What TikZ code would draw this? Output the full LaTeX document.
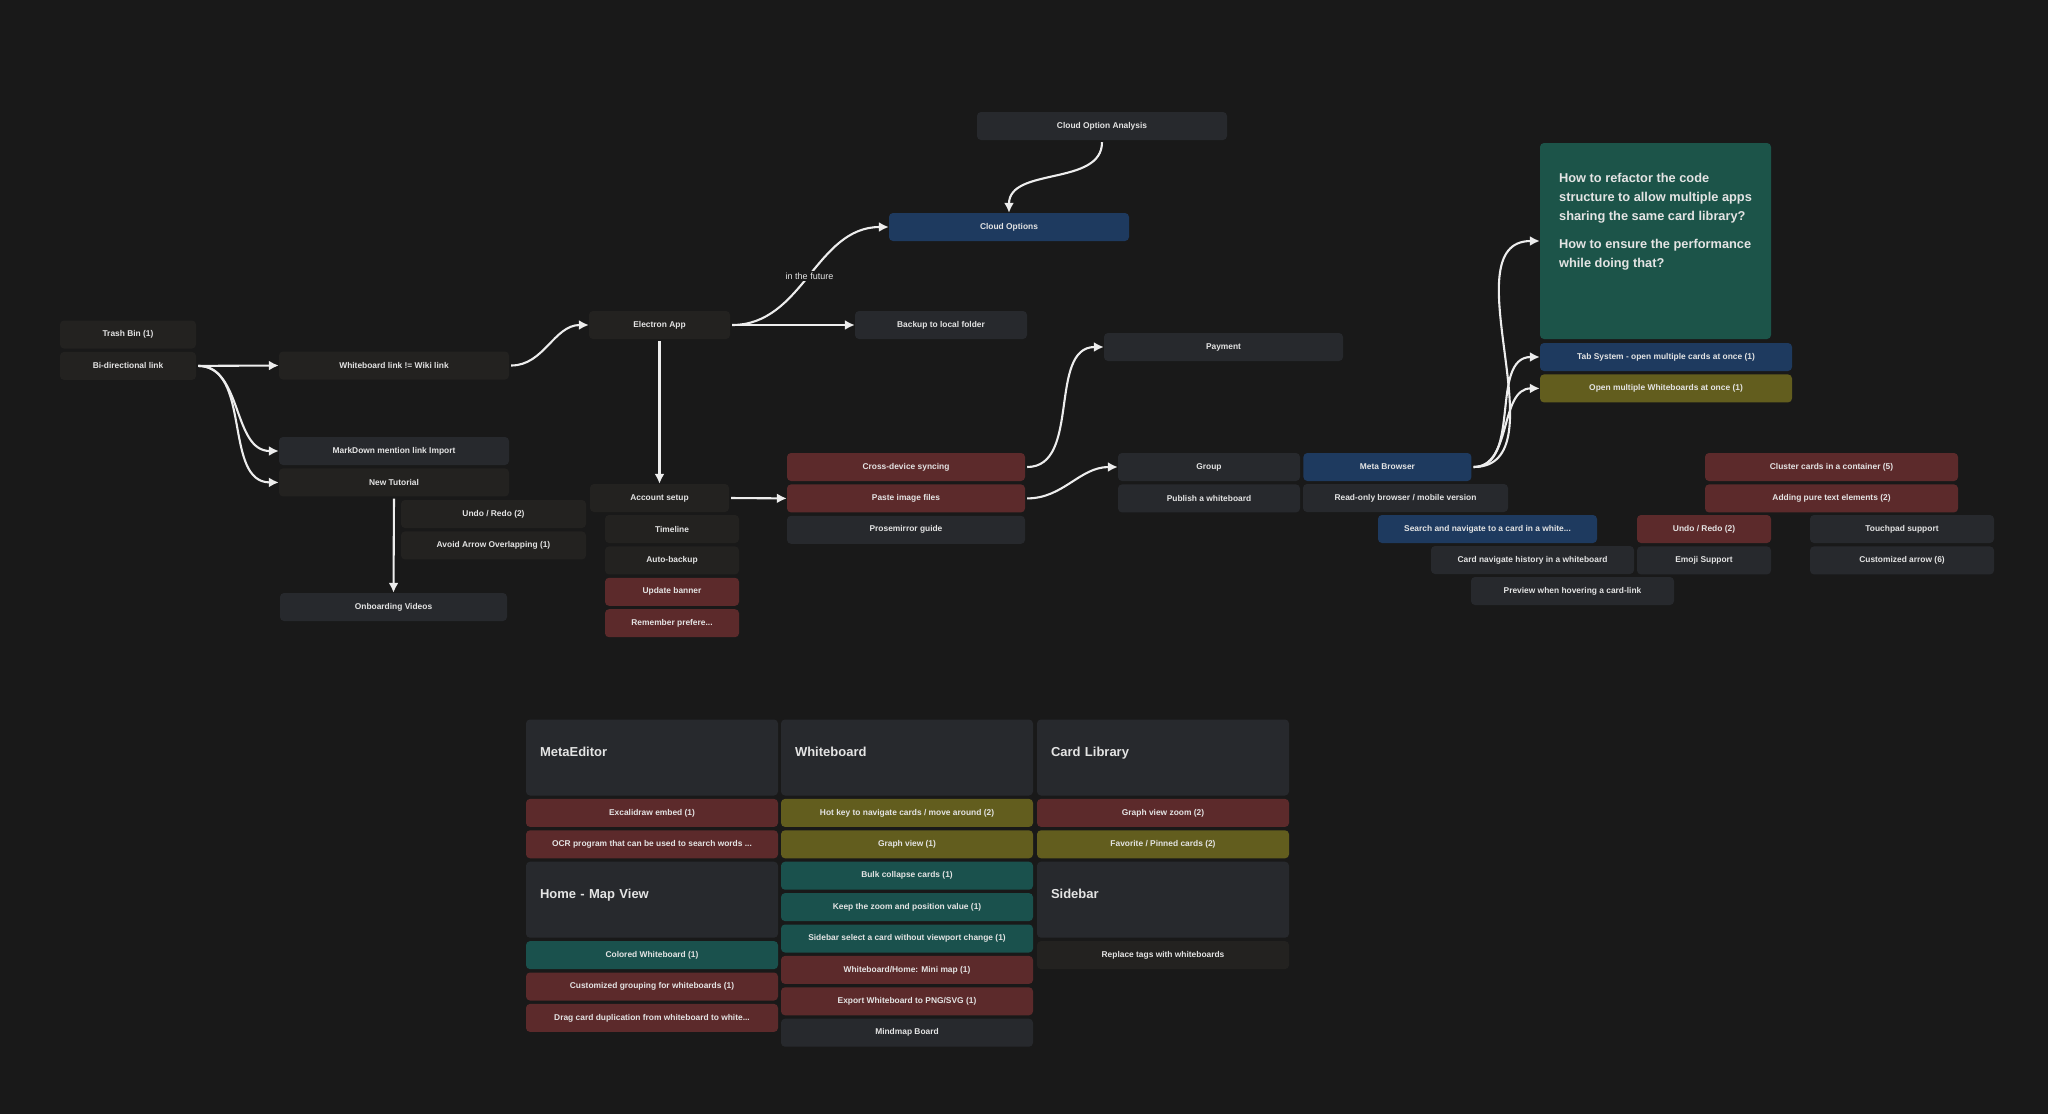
\documentclass[tikz,border=0pt]{standalone}
\usepackage{fontspec}
\setmainfont{Liberation Sans}
\usetikzlibrary{arrows.meta,positioning}
\definecolor{bg}{HTML}{191919}
\definecolor{txt}{HTML}{E4E4E4}
\definecolor{arrowc}{HTML}{EDEDED}
\definecolor{carddark}{HTML}{232220}
\definecolor{cardgray}{HTML}{27292D}
\definecolor{cardred}{HTML}{5C2A2B}
\definecolor{cardblue}{HTML}{1E3A5F}
\definecolor{cardolive}{HTML}{625D1E}
\definecolor{cardteal}{HTML}{1A514D}
\definecolor{cardgreen}{HTML}{1C5449}
\newcommand\hdstrut{\rule[-11.5pt]{0pt}{0pt}}
\tikzset{
  card/.style   = {fill=cardgray, rounded corners=4pt, align=center, text=txt,
                   inner sep=0pt, minimum height=28pt,
                   font=\bfseries\fontsize{8.4}{10}\selectfont},
  cdark/.style  = {card, fill=carddark},
  cred/.style   = {card, fill=cardred},
  cblue/.style  = {card, fill=cardblue},
  colive/.style = {card, fill=cardolive},
  cteal/.style  = {card, fill=cardteal},
  head/.style   = {card, minimum height=76pt, text width=224pt, inner xsep=14pt,
                   align=left, font=\bfseries\fontsize{13}{15}\selectfont},
  note/.style   = {fill=cardgreen, rounded corners=4pt, align=left, text=txt,
                   inner sep=0pt, minimum width=231pt, minimum height=196pt,
                   font=\bfseries\fontsize{12.8}{19}\selectfont},
  lab/.style    = {fill=bg, text=txt, inner sep=2pt,
                   font=\fontsize{9}{10}\selectfont},
  arr/.style    = {-{Latex[length=10pt,width=10pt]}, draw=arrowc, line width=2.1pt,
                   shorten <=2pt},
}

\begin{document}
\begin{tikzpicture}[x=1pt, y=-1pt]
  \fill[bg] (0,0) rectangle (2048,1114);

  % left branch
  \node[cdark, minimum width=136pt] (trash) at (128,334.5) {Trash Bin (1)};
  \node[cdark, minimum width=136pt, below=3pt of trash] (bidir) {Bi-directional link};
  \node[cdark, minimum width=230pt] (wblink) at (394,365.5) {Whiteboard link != Wiki link};
  \node[card, minimum width=230pt] (mdimport) at (394,451) {MarkDown mention link Import};
  \node[cdark, minimum width=230pt, below=3pt of mdimport] (tutorial) {New Tutorial};
  \node[cdark, minimum width=185pt] (undoA) at (493.5,514) {Undo / Redo (2)};
  \node[cdark, minimum width=185pt, below=3pt of undoA] (avoid) {Avoid Arrow Overlapping (1)};
  \node[card, minimum width=227pt] (onboard) at (393.5,607) {Onboarding Videos};

  % electron / cloud
  \node[cdark, minimum width=141pt] (electron) at (659.5,325) {Electron App};
  \node[card, minimum width=250pt] (cloudana) at (1102,126) {Cloud Option Analysis};
  \node[cblue, minimum width=240pt] (cloudopt) at (1009,227) {Cloud Options};
  \node[card, minimum width=172pt] (backup) at (941,325) {Backup to local folder};
  \node[cdark, minimum width=139pt] (account) at (659.5,498) {Account setup};
  \node[cdark, minimum width=134pt] (timeline) at (672,529) {Timeline};
  \node[cdark, minimum width=134pt, below=3pt of timeline] (autobk) {Auto-backup};
  \node[cred, minimum width=134pt, below=3pt of autobk] (update) {Update banner};
  \node[cred, minimum width=134pt, below=3pt of update] (remember) {Remember prefere...};
  \node[cred, minimum width=238pt] (crossdev) at (906,467) {Cross-device syncing};
  \node[cred, minimum width=238pt, below=3pt of crossdev] (paste) {Paste image files};
  \node[card, minimum width=238pt, below=3pt of paste] (prose) {Prosemirror guide};
  \node[card, minimum width=239pt] (payment) at (1223.5,347) {Payment};
  \node[card, minimum width=182pt] (group) at (1209,467) {Group};
  \node[card, minimum width=182pt, below=3pt of group] (publish) {Publish a whiteboard};
  \node[cblue, minimum width=168pt, right=3pt of group] (metabr) {Meta Browser};
  \node[card, minimum width=205pt] (readonly) at (1405.5,498) {Read-only browser / mobile version};

  % right side
  \node[note] (question) at (1655.5,241) {How to refactor the code\\
    structure to allow multiple apps\\ sharing the same card library?\\[9pt]
    How to ensure the performance\\ while doing that?\rule[-41.5pt]{0pt}{0pt}};
  \node[cblue, minimum width=252pt] (tabsys) at (1666,357) {Tab System - open multiple cards at once (1)};
  \node[colive, minimum width=252pt, below=3pt of tabsys] (openwb) {Open multiple Whiteboards at once (1)};
  \node[cred, minimum width=253pt] (cluster) at (1831.5,467) {Cluster cards in a container (5)};
  \node[cred, minimum width=253pt, below=3pt of cluster] (puretext) {Adding pure text elements (2)};
  \node[cblue, minimum width=219pt] (search) at (1487.5,529) {Search and navigate to a card in a white...};
  \node[cred, minimum width=134pt] (undoB) at (1704,529) {Undo / Redo (2)};
  \node[card, minimum width=134pt, below=3pt of undoB] (emoji) {Emoji Support};
  \node[card, minimum width=184pt] (touchpad) at (1902,529) {Touchpad support};
  \node[card, minimum width=184pt, below=3pt of touchpad] (custarrow) {Customized arrow (6)};
  \node[card, minimum width=203pt] (cardhist) at (1532.5,560) {Card navigate history in a whiteboard};
  \node[card, minimum width=203pt] (preview) at (1572.5,591) {Preview when hovering a card-link};

  % bottom columns
  \node[head] (hmeta) at (652,757.5) {MetaEditor\hdstrut};
  \node[cred, minimum width=252pt, below=3pt of hmeta] (excal) {Excalidraw embed (1)};
  \node[cred, minimum width=252pt, below=3pt of excal] (ocr) {OCR program that can be used to search words ...};
  \node[head, below=3pt of ocr] (hhome) {Home - Map View\hdstrut};
  \node[cteal, minimum width=252pt, below=3pt of hhome] (colored) {Colored Whiteboard (1)};
  \node[cred, minimum width=252pt, below=3pt of colored] (grouping) {Customized grouping for whiteboards (1)};
  \node[cred, minimum width=252pt, below=3pt of grouping] (dragdup) {Drag card duplication from whiteboard to white...};

  \node[head] (hwb) at (907,757.5) {Whiteboard\hdstrut};
  \node[colive, minimum width=252pt, below=3pt of hwb] (hotkey) {Hot key to navigate cards / move around (2)};
  \node[colive, minimum width=252pt, below=3pt of hotkey] (graphv) {Graph view (1)};
  \node[cteal, minimum width=252pt, below=3pt of graphv] (bulk) {Bulk collapse cards (1)};
  \node[cteal, minimum width=252pt, below=3pt of bulk] (keepzoom) {Keep the zoom and position value (1)};
  \node[cteal, minimum width=252pt, below=3pt of keepzoom] (sidesel) {Sidebar select a card without viewport change (1)};
  \node[cred, minimum width=252pt, below=3pt of sidesel] (minimap) {Whiteboard/Home: Mini map (1)};
  \node[cred, minimum width=252pt, below=3pt of minimap] (export) {Export Whiteboard to PNG/SVG (1)};
  \node[card, minimum width=252pt, below=3pt of export] (mindmap) {Mindmap Board};

  \node[head] (hlib) at (1163,757.5) {Card Library\hdstrut};
  \node[cred, minimum width=252pt, below=3pt of hlib] (graphzoom) {Graph view zoom (2)};
  \node[colive, minimum width=252pt, below=3pt of graphzoom] (favorite) {Favorite / Pinned cards (2)};
  \node[head, below=3pt of favorite] (hside) {Sidebar\hdstrut};
  \node[cdark, minimum width=252pt, below=3pt of hside] (replace) {Replace tags with whiteboards};

  % connectors
  \draw[arr] (bidir.east) -- (wblink.west);
  \draw[arr] (bidir.east) to[out=0, in=180] (mdimport.west);
  \draw[arr] (bidir.east) to[out=0, in=180] (tutorial.west);
  \draw[arr] (wblink.east) to[out=0, in=180] (electron.west);
  \draw[arr] (tutorial.south) -- (onboard.north);
  \draw[arr] (electron.east) to[out=0, in=180] node[lab] {in the future} (cloudopt.west);
  \draw[arr] (electron.east) -- (backup.west);
  \draw[arr] (cloudana.south) to[out=-90, in=90] (cloudopt.north);
  \draw[arr] (electron.south) -- (account.north);
  \draw[arr] (account.east) -- (paste.west);
  \draw[arr] (crossdev.east) to[out=0, in=180] (payment.west);
  \draw[arr] (paste.east) to[out=0, in=180] (group.west);
  \foreach \t in {question, tabsys, openwb}
    \draw[arr] (metabr.east) to[out=0, in=180] (\t.west);
\end{tikzpicture}
\end{document}
